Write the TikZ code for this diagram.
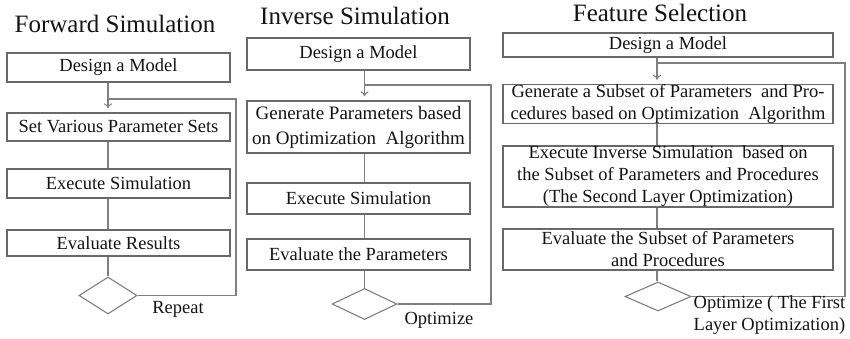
\documentclass[tikz,border=0pt]{standalone}
\usepackage{fontspec}
\setmainfont{Liberation Serif}
\usetikzlibrary{shapes.geometric,arrows.meta}
\definecolor{linegray}{HTML}{7F7F7F}
\definecolor{boxgray}{HTML}{696969}
\definecolor{txt}{HTML}{141414}
\begin{document}
\begin{tikzpicture}[x=1pt,y=-1pt,
  boxA/.style={draw=boxgray, line width=1.3pt, rectangle, inner sep=0pt, text=txt,
    font=\fontsize{18.5}{22}\selectfont, align=center},
  dia/.style={draw=linegray, line width=1.1pt, diamond, inner sep=0pt, aspect=1.8},
  conn/.style={draw=linegray, line width=1.1pt},
  arr/.style={conn, -{To[length=5pt,width=8pt,line width=1pt]}, shorten >=4pt},
  title/.style={text=txt, font=\fontsize{25}{28}\selectfont, anchor=base, inner sep=0pt},
  lbl/.style={text=txt, font=\fontsize{18.5}{22}\selectfont, inner sep=0pt}]
\useasboundingbox (0,0) rectangle (850,339);
\fill[white] (0,0) rectangle (850,339);

% ---------- Forward Simulation ----------
\node[title] (t1) at (115,33) {Forward Simulation};
\node[boxA, minimum width=223pt, minimum height=29pt] (b11) at (118.5,67.5) {Design a Model};
\node[boxA, minimum width=223pt, minimum height=28pt] (b12) at (118.5,127) {Set Various Parameter Sets};
\node[boxA, minimum width=223pt, minimum height=29pt] (b13) at (118.5,183.5) {Execute Simulation};
\node[boxA, minimum width=223pt, minimum height=26pt] (b14) at (118.5,243) {Evaluate Results};
\node[dia, minimum width=58pt, minimum height=37pt] (d1) at (108,295.5) {};
\coordinate (l1a) at (108,99);
\coordinate (l1b) at (236,99);
\coordinate (l1c) at (236,295.5);
\draw[arr] (b11.south -| l1a) -- (b12.north -| l1a);
\draw[conn] (b12.south -| l1a) -- (b13.north -| l1a);
\draw[conn] (b13.south -| l1a) -- (b14.north -| l1a);
\draw[conn] (b14.south -| l1a) -- (d1.north);
\draw[conn] (l1a) -- (l1b) -- (l1c) -- (d1.east);
\node[lbl] (r1) at (178,309) {Repeat};

% ---------- Inverse Simulation ----------
\node[title] (t2) at (355,25) {Inverse Simulation};
\node[boxA, minimum width=223pt, minimum height=32pt] (b21) at (358.5,54) {Design a Model};
\node[boxA, minimum width=223pt, minimum height=52pt, font=\fontsize{19}{25}\selectfont] (b22) at (358.5,127) {Generate Parameters based\\on Optimization\ \ Algorithm};
\node[boxA, minimum width=223pt, minimum height=31pt] (b23) at (358.5,198.5) {Execute Simulation};
\node[boxA, minimum width=223pt, minimum height=31pt] (b24) at (358.5,254.5) {Evaluate the Parameters};
\node[dia, minimum width=65pt, minimum height=31pt] (d2) at (364.5,304) {};
\coordinate (l2a) at (364.5,85);
\coordinate (l2b) at (491,85);
\coordinate (l2c) at (491,304);
\draw[arr] (b21.south -| l2a) -- (b22.north -| l2a);
\draw[conn] (b22.south -| l2a) -- (b23.north -| l2a);
\draw[conn] (b23.south -| l2a) -- (b24.north -| l2a);
\draw[conn] (b24.south -| l2a) -- (d2.north);
\draw[conn] (l2a) -- (l2b) -- (l2c) -- (d2.east);
\node[lbl] (r2) at (439,320) {Optimize};

% ---------- Feature Selection ----------
\node[title] (t3) at (660,22) {Feature Selection};
\node[boxA, minimum width=330pt, minimum height=24pt] (b31) at (668,45) {Design a Model};
\node[boxA, minimum width=330pt, minimum height=38pt] (b32) at (668,104) {Generate a Subset of Parameters\ \ and Pro-\\cedures based on Optimization\ \ Algorithm};
\node[boxA, minimum width=330pt, minimum height=59pt] (b33) at (668,176.5) {Execute Inverse Simulation\ \ based on\\the Subset of Parameters and Procedures\\(The Second Layer Optimization)};
\node[boxA, minimum width=330pt, minimum height=41pt] (b34) at (668,249.5) {Evaluate the Subset of Parameters\\and Procedures};
\node[dia, minimum width=66pt, minimum height=29pt] (d3) at (658,296.5) {};
\coordinate (l3a) at (657,63);
\coordinate (l3b) at (845,63);
\coordinate (l3c) at (845,296.5);
\draw[arr] (b31.south -| l3a) -- (b32.north -| l3a);
\draw[conn] (b32.south -| l3a) -- (b33.north -| l3a);
\draw[conn] (b33.south -| l3a) -- (b34.north -| l3a);
\draw[conn] (b34.south -| l3a) -- (d3.north -| l3a);
\draw[conn] (l3a) -- (l3b) -- (l3c) -- (d3.east);
\node[lbl, align=left] (r3) at (769.5,315) {Optimize ( The First\\Layer Optimization)};
\end{tikzpicture}
\end{document}
